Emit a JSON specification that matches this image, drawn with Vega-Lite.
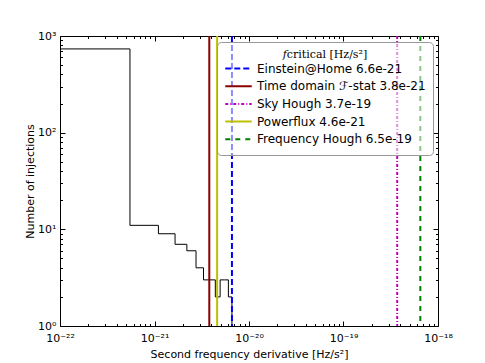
{
  "$schema": "https://vega.github.io/schema/vega-lite/v6.json",
  "width": 378,
  "height": 290,
  "autosize": {"type": "none"},
  "padding": {"left": 60, "top": 36, "right": 47, "bottom": 37},
  "background": "white",
  "config": {
    "font": "DejaVu Sans",
    "view": {"stroke": "black", "strokeWidth": 1},
    "axis": {"grid": false, "domain": false, "tickColor": "black", "labelColor": "black", "titleColor": "black", "labelFontSize": 11, "titleFontSize": 11, "titleFontWeight": "normal"}
  },
  "resolve": {"axis": {"x": "independent", "y": "independent"}},
  "datasets": {
    "hist": [
      {"x": 1e-22, "count": 735},
      {"x": 5.5e-22, "count": 11},
      {"x": 1.1e-21, "count": 9},
      {"x": 1.65e-21, "count": 7},
      {"x": 2.2e-21, "count": 6},
      {"x": 2.75e-21, "count": 4},
      {"x": 3.3e-21, "count": 3},
      {"x": 3.85e-21, "count": 3},
      {"x": 4.4e-21, "count": 2},
      {"x": 4.95e-21, "count": 3},
      {"x": 5.5e-21, "count": 3},
      {"x": 6.05e-21, "count": 2},
      {"x": 6.6e-21, "count": 1}
    ],
    "limits": [
      {"name": "Einstein@Home 6.6e-21", "x": 6.6e-21},
      {"name": "Time domain ℱ-stat 3.8e-21", "x": 3.8e-21},
      {"name": "Sky Hough 3.7e-19", "x": 3.7e-19},
      {"name": "Powerflux 4.6e-21", "x": 4.6e-21},
      {"name": "Frequency Hough 6.5e-19", "x": 6.5e-19}
    ]
  },
  "layer": [
    {
      "data": {"name": "hist"},
      "mark": {"type": "line", "interpolate": "step-after", "color": "black", "strokeWidth": 1, "clip": true},
      "encoding": {
        "x": {
          "field": "x", "type": "quantitative",
          "scale": {"type": "log", "domain": [1e-22, 1e-18], "nice": false},
          "axis": {
            "title": "Second frequency derivative [Hz/s²]",
            "values": [1e-22,2e-22,3e-22,4e-22,5e-22,6e-22,7e-22,8e-22,9e-22,1e-21,2e-21,3e-21,4e-21,5e-21,6e-21,7e-21,8e-21,9e-21,1e-20,2e-20,3e-20,4e-20,5e-20,6e-20,7e-20,8e-20,9e-20,1e-19,2e-19,3e-19,4e-19,5e-19,6e-19,7e-19,8e-19,9e-19,1e-18],
            "labelExpr": "datum.value == 1e-22 ? '10⁻²²' : datum.value == 1e-21 ? '10⁻²¹' : datum.value == 1e-20 ? '10⁻²⁰' : datum.value == 1e-19 ? '10⁻¹⁹' : datum.value == 1e-18 ? '10⁻¹⁸' : ''",
            "tickSize": {"condition": {"test": "indexof([1e-22,1e-21,1e-20,1e-19,1e-18], datum.value) >= 0", "value": -5}, "value": -2.5},
            "labelPadding": 11,
            "labelFlush": false,
            "labelOverlap": false,
            "titlePadding": 3
          }
        },
        "y": {
          "field": "count", "type": "quantitative",
          "scale": {"type": "log", "domain": [1, 1000], "nice": false},
          "axis": {
            "title": "Number of injections",
            "values": [1,2,3,4,5,6,7,8,9,10,20,30,40,50,60,70,80,90,100,200,300,400,500,600,700,800,900,1000],
            "labelExpr": "datum.value == 1 ? '10⁰' : datum.value == 10 ? '10¹' : datum.value == 100 ? '10²' : datum.value == 1000 ? '10³' : ''",
            "tickSize": {"condition": {"test": "indexof([1,10,100,1000], datum.value) >= 0", "value": -5}, "value": -2.5},
            "labelPadding": 9,
            "labelFlush": false,
            "labelOverlap": false,
            "titlePadding": 2
          }
        }
      }
    },
    {
      "data": {"name": "hist"},
      "mark": {"type": "point", "opacity": 0},
      "encoding": {
        "x": {
          "field": "x", "type": "quantitative",
          "axis": {
            "orient": "top", "title": null, "labels": false,
            "values": [1e-22,2e-22,3e-22,4e-22,5e-22,6e-22,7e-22,8e-22,9e-22,1e-21,2e-21,3e-21,4e-21,5e-21,6e-21,7e-21,8e-21,9e-21,1e-20,2e-20,3e-20,4e-20,5e-20,6e-20,7e-20,8e-20,9e-20,1e-19,2e-19,3e-19,4e-19,5e-19,6e-19,7e-19,8e-19,9e-19,1e-18],
            "tickSize": {"condition": {"test": "indexof([1e-22,1e-21,1e-20,1e-19,1e-18], datum.value) >= 0", "value": -5}, "value": -2.5}
          }
        },
        "y": {
          "field": "count", "type": "quantitative",
          "axis": {
            "orient": "right", "title": null, "labels": false,
            "values": [1,2,3,4,5,6,7,8,9,10,20,30,40,50,60,70,80,90,100,200,300,400,500,600,700,800,900,1000],
            "tickSize": {"condition": {"test": "indexof([1,10,100,1000], datum.value) >= 0", "value": -5}, "value": -2.5}
          }
        }
      }
    },
    {
      "data": {"name": "limits"},
      "mark": {"type": "rule", "strokeWidth": 2},
      "encoding": {
        "x": {"field": "x", "type": "quantitative", "axis": null},
        "color": {
          "field": "name", "type": "nominal",
          "scale": {
            "domain": ["Einstein@Home 6.6e-21", "Time domain ℱ-stat 3.8e-21", "Sky Hough 3.7e-19", "Powerflux 4.6e-21", "Frequency Hough 6.5e-19"],
            "range": ["#0000ff", "#8b0000", "#bf00bf", "#bfbf00", "#008000"]
          },
          "legend": {
            "title": "𝑓critical [Hz/s²]",
            "orient": "none", "legendX": 157, "legendY": 6,
            "symbolType": "stroke", "symbolSize": 700, "symbolStrokeWidth": 2,
            "labelFontSize": 12, "labelColor": "black", "labelLimit": 300,
            "clipHeight": 17,
            "titleFont": "DejaVu Serif", "titleFontSize": 11, "titleFontWeight": "normal", "titleColor": "black", "titleAnchor": "middle", "titlePadding": 0,
            "fillColor": "rgba(255,255,255,0.55)", "strokeColor": "#999", "cornerRadius": 4, "padding": 7, "rowPadding": 0.7
          }
        },
        "strokeDash": {
          "field": "name", "type": "nominal",
          "scale": {
            "domain": ["Einstein@Home 6.6e-21", "Time domain ℱ-stat 3.8e-21", "Sky Hough 3.7e-19", "Powerflux 4.6e-21", "Frequency Hough 6.5e-19"],
            "range": [[6, 3], [1, 0], [3, 2, 1, 2], [1, 0], [5, 5]]
          },
          "legend": {
            "title": "𝑓critical [Hz/s²]",
            "orient": "none", "legendX": 157, "legendY": 6
          }
        }
      }
    }
  ]
}
